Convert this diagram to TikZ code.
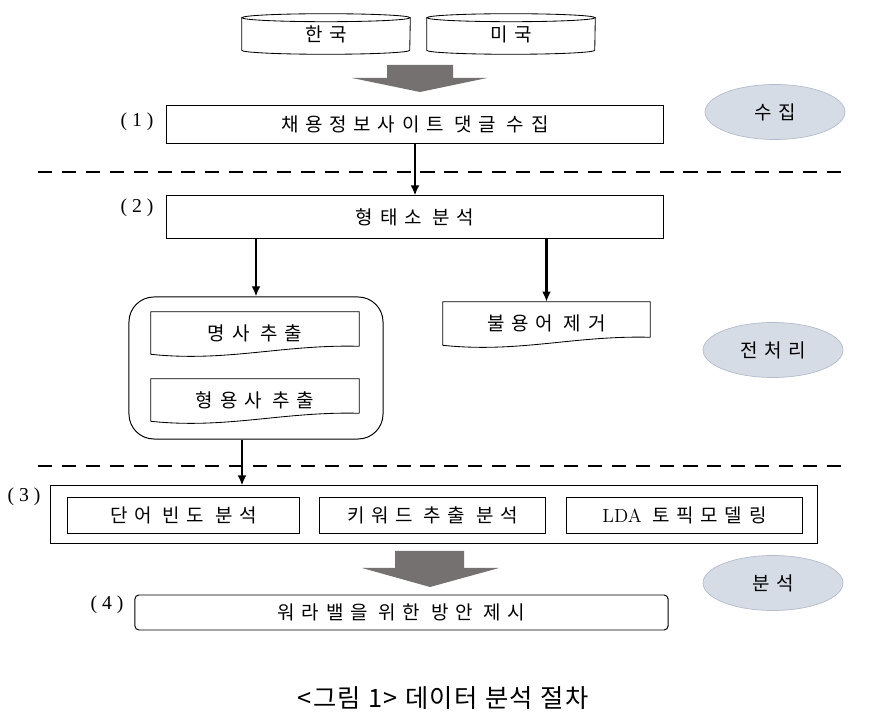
\documentclass[tikz,border=0pt]{standalone}
\usepackage{fontspec}
\newfontfamily\kr[LetterSpace=35]{Noto Sans CJK KR}
\newfontfamily\krcap[LetterSpace=6]{Noto Sans CJK KR}
\newfontfamily\numfont[LetterSpace=25]{Liberation Serif}
\usetikzlibrary{arrows.meta,shapes.geometric}

\definecolor{stagefill}{HTML}{D6DCE5}
\definecolor{stageline}{HTML}{B4BCCB}
\definecolor{fatgrey}{HTML}{757170}

\tikzset{
  box/.style={draw, line width=0.7pt, inner sep=0pt, font=\kr\fontsize{13.5}{15}\selectfont},
  doc/.style={inner sep=0pt, font=\kr\fontsize{13.5}{15}\selectfont},
  stage/.style={ellipse, fill=stagefill, draw=stageline, line width=0.5pt, minimum width=3.5cm, minimum height=1.375cm, font=\kr\fontsize{13.5}{15}\selectfont},
  num/.style={font=\numfont\fontsize{14}{16}\selectfont},
  arr/.style={line width=1.6pt, -{Latex[length=2.5mm,width=2.2mm]}},
  sep/.style={line width=1.8pt, dash pattern=on 10pt off 7pt}
}

\begin{document}
\begin{tikzpicture}[x=0.025cm, y=-0.025cm]

\useasboundingbox (0,0) rectangle (889,720);

\node[doc, minimum width=4.2cm, minimum height=0.8cm] at (326,34) (kor) {한국};
\node[doc, minimum width=4.2cm, minimum height=0.8cm] at (511,34) (usa) {미국};
\foreach \c in {kor,usa} {
  \draw[line width=0.6pt] (\c.north west) -- (\c.south west) arc[start angle=180, end angle=360, x radius=2.1cm, y radius=0.1cm] -- (\c.north east);
  \draw[line width=0.6pt] (\c.north) ellipse [x radius=2.1cm, y radius=0.1cm];
}

\fill[fatgrey] (387,65) -- (453,65) -- (453,78) -- (487,78) -- (420,92) -- (352,78) -- (387,78) -- cycle;

\node[box, minimum width=12.4cm, minimum height=0.925cm] at (415,124.5) (collect) {채용정보사이트 댓글 수집};
\node[num] at (137,122) (n1) {(1)};

\draw[sep] (38,172) -- (845,172);

\node[box, minimum width=12.4cm, minimum height=1.05cm] at (415,217) (morph) {형태소 분석};
\node[num] at (137,208) (n2) {(2)};
\draw[arr] (collect.south) -- (morph.north);

\node[draw, line width=0.7pt, rounded corners=0.625cm, minimum width=6.35cm, minimum height=3.55cm] at (256,368) (grp) {};
\node[doc, minimum width=5.2cm, minimum height=1.05cm] at (255,333) (noun) {명사 추출};
\node[doc, minimum width=5.2cm, minimum height=1.05cm] at (255,400) (adj) {형용사 추출};
\node[doc, minimum width=5.175cm, minimum height=1.075cm] at (546.5,323.5) (stop) {불용어 제거};
\foreach \d in {noun,adj,stop}
  \draw[line width=0.6pt] ([yshift=0.2cm]\d.south east) -- (\d.north east) -- (\d.north west) -- (\d.south west)
    .. controls +(1.9cm,-0.2cm) and +(-1.9cm,0.05cm) .. ([yshift=0.2cm]\d.south east);

\draw[arr] (morph.south -| grp.north) -- (grp.north);
\draw[arr] (morph.south -| stop.north) -- (stop.north);

\node[stage] at (775,112) (s1) {수집};
\node[stage] at (773,350) (s2) {전처리};
\node[stage] at (773,583) (s3) {분석};

\draw[sep] (38,466) -- (845,466);

\node[box, minimum width=19.15cm, minimum height=1.425cm] at (434,514.5) (ana) {};
\node[num] at (24,497) (n3) {(3)};
\coordinate (gout) at ([xshift=-0.35cm]grp.south);
\draw[arr] (gout) -- (gout |- ana.north);

\node[box, minimum width=5.775cm, minimum height=0.9cm] at (183.5,515) (freq) {단어 빈도 분석};
\node[box, minimum width=5.625cm, minimum height=0.9cm] at (432.5,515) (kw) {키워드 추출 분석};
\node[box, minimum width=5.875cm, minimum height=0.9cm] at (684.5,515) (lda) {{\rmfamily LDA} 토픽모델링};

\fill[fatgrey] (395,551) -- (464,551) -- (464,568) -- (499,568) -- (430,587) -- (362,568) -- (395,568) -- cycle;

\node[box, rounded corners=0.1cm, minimum width=13.325cm, minimum height=0.875cm] at (401.5,612.5) (plan) {워라밸을 위한 방안 제시};
\node[num] at (107,605) (n4) {(4)};

\node[font=\krcap\fontsize{18}{21}\selectfont] at (443,698) (cap) {<그림 1> 데이터 분석 절차};

\end{tikzpicture}
\end{document}
